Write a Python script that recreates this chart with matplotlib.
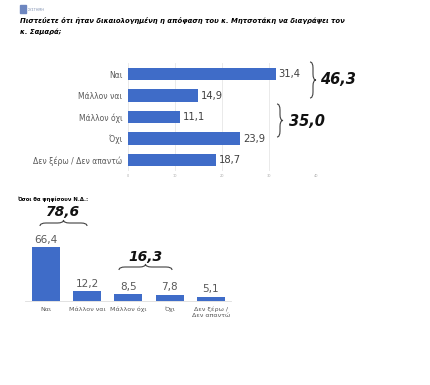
import numpy as np
import matplotlib.pyplot as plt
from matplotlib.path import Path
from matplotlib.patches import PathPatch

# top chart data
q1_labels = ['Ναι', 'Μάλλον ναι', 'Μάλλον όχι', 'Όχι', 'Δεν ξέρω / Δεν απαντώ']
q1_values = [31.4, 14.9, 11.1, 23.9, 18.7]
q1_ticks = [0, 10, 20, 30, 40]
q1_groups = ['46,3', '35,0']

# bottom chart data (ND voters)
q2_labels = ['Ναι', 'Μάλλον ναι', 'Μάλλον όχι', 'Όχι', 'Δεν ξέρω /\nΔεν απαντώ']
q2_values = [66.4, 12.2, 8.5, 7.8, 5.1]
q2_groups = ['78,6', '16,3']

W, H = 431, 385
BLUE = '#3f6cc8'
GREY = '#595959'


def fx(px):
    return px / W


def fy(py):
    return 1 - py / H


def brace(fig, x0, y0, x1, y1, depth, vertical=True):
    # curly brace in pixel coords, tip points right (vertical) or up (horizontal)
    if vertical:
        x = x0
        ym = (y0 + y1) / 2
        q = min(depth, abs(y1 - y0) / 4)
        sgn = 1 if y1 > y0 else -1
        pts = [(x, y0), (x + depth / 2, y0), (x + depth / 2, y0 + sgn * q),
               (x + depth / 2, ym - sgn * q), (x + depth / 2, ym), (x + depth, ym),
               (x + depth / 2, ym), (x + depth / 2, ym + sgn * q),
               (x + depth / 2, y1 - sgn * q), (x + depth / 2, y1), (x, y1)]
    else:
        y = y0
        xm = (x0 + x1) / 2
        q = min(depth, abs(x1 - x0) / 4)
        pts = [(x0, y), (x0, y - depth / 2), (x0 + q, y - depth / 2),
               (xm - q, y - depth / 2), (xm, y - depth / 2), (xm, y - depth),
               (xm, y - depth / 2), (xm + q, y - depth / 2),
               (x1 - q, y - depth / 2), (x1, y - depth / 2), (x1, y)]
    codes = [Path.MOVETO, Path.CURVE3, Path.CURVE3, Path.LINETO, Path.CURVE3, Path.CURVE3,
             Path.CURVE3, Path.CURVE3, Path.LINETO, Path.CURVE3, Path.CURVE3]
    verts = [(fx(a), fy(b)) for a, b in pts]
    fig.patches.append(PathPatch(Path(verts, codes), transform=fig.transFigure,
                                 fill=False, lw=0.8, color='#404040'))


fig = plt.figure(figsize=(W / 100, H / 100), dpi=100)

# header
fig.patches.append(plt.Rectangle((fx(20), fy(13)), fx(6), 8 / H, transform=fig.transFigure,
                                 color='#6d86c0'))
fig.text(fx(28), fy(10), 'ΣΥΣΤΗΜΗ', fontsize=2.5, color='#7f8fb0', va='center')
fig.text(fx(20), fy(20), 'Πιστεύετε ότι ήταν δικαιολογημένη η απόφαση του κ. Μητσοτάκη να διαγράψει τον',
         fontsize=4.95, fontweight='bold', fontstyle='italic', va='center')
fig.text(fx(20), fy(32), 'κ. Σαμαρά;', fontsize=4.95, fontweight='bold', fontstyle='italic', va='center')

# top horizontal bars
ax1 = fig.add_axes([fx(128), fy(170.75), fx(316) - fx(128), 107.5 / H])
y = np.arange(len(q1_values))
ax1.barh(y, q1_values, height=0.58, color=BLUE, zorder=3)
ax1.set_ylim(len(q1_values) - 0.5, -0.5)
ax1.set_xlim(q1_ticks[0], q1_ticks[-1])
ax1.set_xticks(q1_ticks)
ax1.set_xticklabels([str(t) for t in q1_ticks], fontsize=2.5, color='#aaaaaa')
ax1.set_yticks(y)
ax1.set_yticklabels(q1_labels, fontsize=5.5, color=GREY)
ax1.tick_params(length=0, pad=4)
ax1.tick_params(axis='x', pad=2)
ax1.grid(axis='x', color='#e6e6e6', lw=0.6, zorder=0)
for s in ax1.spines.values():
    s.set_visible(False)
for yi, v in zip(y, q1_values):
    ax1.text(v + 0.6, yi, f'{v:.1f}'.replace('.', ','), va='center', ha='left',
             fontsize=7.2, color='#404040')

brace(fig, 310, 62, 310, 98, 6)
fig.text(fx(320), fy(80), q1_groups[0], fontsize=10.5, fontweight='bold', fontstyle='italic',
         va='center', ha='left', color='#111111')
brace(fig, 277, 104, 277, 137, 6)
fig.text(fx(289), fy(121), q1_groups[1], fontsize=10.5, fontweight='bold', fontstyle='italic',
         va='center', ha='left', color='#111111')

# bottom column chart
fig.text(fx(17), fy(199), 'Όσοι θα ψηφίσουν Ν.Δ.:', fontsize=3.8, fontweight='bold', va='center')
ax2 = fig.add_axes([fx(25.4), fy(301), fx(206), 65 / H])
x = np.arange(len(q2_values))
ax2.bar(x, q2_values, width=0.68, color=BLUE, zorder=3)
ax2.set_xlim(-0.5, len(q2_values) - 0.5)
ax2.set_ylim(0, 80)
ax2.set_yticks([])
ax2.set_xticks(x)
ax2.set_xticklabels(q2_labels, fontsize=4.6, color=GREY, va='top', linespacing=1.3)
ax2.tick_params(length=0, pad=4)
for s in ['top', 'right', 'left']:
    ax2.spines[s].set_visible(False)
ax2.spines['bottom'].set_color('#dddddd')
ax2.spines['bottom'].set_linewidth(0.6)
for xi, v in zip(x, q2_values):
    ax2.text(xi, v + 3, f'{v:.1f}'.replace('.', ','), va='bottom', ha='center',
             fontsize=7.5, color=GREY)

brace(fig, 40, 226, 87, 226, 6, vertical=False)
fig.text(fx(63), fy(212), q2_groups[0], fontsize=10, fontweight='bold', fontstyle='italic',
         va='center', ha='center', color='#111111')
brace(fig, 119, 270, 172, 270, 6, vertical=False)
fig.text(fx(145), fy(257), q2_groups[1], fontsize=10, fontweight='bold', fontstyle='italic',
         va='center', ha='center', color='#111111')

fig.savefig('out.png', dpi=100, facecolor='white')
